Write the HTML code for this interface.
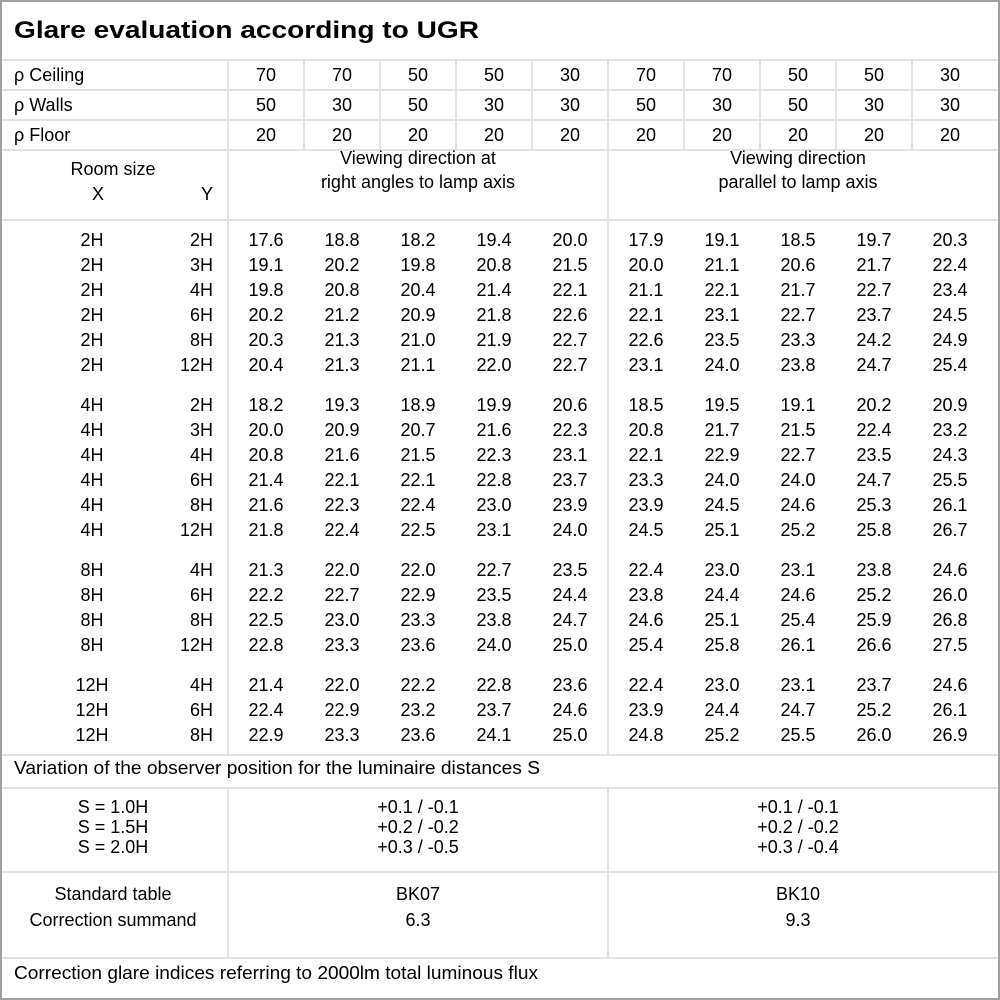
<!DOCTYPE html>
<html><head><meta charset="utf-8"><style>
html,body{margin:0;padding:0;background:#fff}
svg{display:block}
text{font-family:"Liberation Sans",sans-serif;font-size:18px;fill:#000}
.c{text-anchor:middle}.e{text-anchor:end}
</style></head><body>
<svg width="1000" height="1000" viewBox="0 0 1000 1000" xmlns="http://www.w3.org/2000/svg">
<rect x="0" y="0" width="1000" height="1000" fill="#fff"/>
<g stroke="#e2e2e2" stroke-width="2" fill="none">
<line x1="0" y1="60" x2="1000" y2="60"/>
<line x1="0" y1="90" x2="1000" y2="90"/>
<line x1="0" y1="120" x2="1000" y2="120"/>
<line x1="0" y1="150" x2="1000" y2="150"/>
<line x1="0" y1="220" x2="1000" y2="220"/>
<line x1="0" y1="755" x2="1000" y2="755"/>
<line x1="0" y1="788" x2="1000" y2="788"/>
<line x1="0" y1="872" x2="1000" y2="872"/>
<line x1="0" y1="958" x2="1000" y2="958"/>
<line x1="228" y1="60" x2="228" y2="755"/>
<line x1="608" y1="60" x2="608" y2="755"/>
<line x1="228" y1="788" x2="228" y2="958"/>
<line x1="608" y1="788" x2="608" y2="958"/>
<line x1="304" y1="60" x2="304" y2="150"/><line x1="380" y1="60" x2="380" y2="150"/>
<line x1="456" y1="60" x2="456" y2="150"/><line x1="532" y1="60" x2="532" y2="150"/>
<line x1="684" y1="60" x2="684" y2="150"/><line x1="760" y1="60" x2="760" y2="150"/>
<line x1="836" y1="60" x2="836" y2="150"/><line x1="912" y1="60" x2="912" y2="150"/>
</g>
<rect x="1" y="1" width="998" height="998" fill="none" stroke="#a0a0a0" stroke-width="2"/>
<text x="14" y="38" style="font-size:24px;font-weight:bold" textLength="465" lengthAdjust="spacingAndGlyphs">Glare evaluation according to UGR</text>
<text x="14" y="81">ρ Ceiling</text>
<text x="14" y="111">ρ Walls</text>
<text x="14" y="141">ρ Floor</text>
<g class="c">
<text class="c" x="266" y="81">70</text><text class="c" x="342" y="81">70</text><text class="c" x="418" y="81">50</text><text class="c" x="494" y="81">50</text><text class="c" x="570" y="81">30</text><text class="c" x="646" y="81">70</text><text class="c" x="722" y="81">70</text><text class="c" x="798" y="81">50</text><text class="c" x="874" y="81">50</text><text class="c" x="950" y="81">30</text>
<text class="c" x="266" y="111">50</text><text class="c" x="342" y="111">30</text><text class="c" x="418" y="111">50</text><text class="c" x="494" y="111">30</text><text class="c" x="570" y="111">30</text><text class="c" x="646" y="111">50</text><text class="c" x="722" y="111">30</text><text class="c" x="798" y="111">50</text><text class="c" x="874" y="111">30</text><text class="c" x="950" y="111">30</text>
<text class="c" x="266" y="141">20</text><text class="c" x="342" y="141">20</text><text class="c" x="418" y="141">20</text><text class="c" x="494" y="141">20</text><text class="c" x="570" y="141">20</text><text class="c" x="646" y="141">20</text><text class="c" x="722" y="141">20</text><text class="c" x="798" y="141">20</text><text class="c" x="874" y="141">20</text><text class="c" x="950" y="141">20</text>
</g>
<text class="c" x="113" y="175">Room size</text>
<text class="c" x="98" y="200">X</text>
<text class="c" x="207" y="200">Y</text>
<text class="c" x="418" y="164">Viewing direction at</text>
<text class="c" x="418" y="188">right angles to lamp axis</text>
<text class="c" x="798" y="164">Viewing direction</text>
<text class="c" x="798" y="188">parallel to lamp axis</text>

<!-- rows -->
<g>
<text class="c" x="92" y="246">2H</text><text class="e" x="213" y="246">2H</text>
<text class="c" x="266" y="246">17.6</text><text class="c" x="342" y="246">18.8</text><text class="c" x="418" y="246">18.2</text><text class="c" x="494" y="246">19.4</text><text class="c" x="570" y="246">20.0</text><text class="c" x="646" y="246">17.9</text><text class="c" x="722" y="246">19.1</text><text class="c" x="798" y="246">18.5</text><text class="c" x="874" y="246">19.7</text><text class="c" x="950" y="246">20.3</text>
<text class="c" x="92" y="271">2H</text><text class="e" x="213" y="271">3H</text>
<text class="c" x="266" y="271">19.1</text><text class="c" x="342" y="271">20.2</text><text class="c" x="418" y="271">19.8</text><text class="c" x="494" y="271">20.8</text><text class="c" x="570" y="271">21.5</text><text class="c" x="646" y="271">20.0</text><text class="c" x="722" y="271">21.1</text><text class="c" x="798" y="271">20.6</text><text class="c" x="874" y="271">21.7</text><text class="c" x="950" y="271">22.4</text>
<text class="c" x="92" y="296">2H</text><text class="e" x="213" y="296">4H</text>
<text class="c" x="266" y="296">19.8</text><text class="c" x="342" y="296">20.8</text><text class="c" x="418" y="296">20.4</text><text class="c" x="494" y="296">21.4</text><text class="c" x="570" y="296">22.1</text><text class="c" x="646" y="296">21.1</text><text class="c" x="722" y="296">22.1</text><text class="c" x="798" y="296">21.7</text><text class="c" x="874" y="296">22.7</text><text class="c" x="950" y="296">23.4</text>
<text class="c" x="92" y="321">2H</text><text class="e" x="213" y="321">6H</text>
<text class="c" x="266" y="321">20.2</text><text class="c" x="342" y="321">21.2</text><text class="c" x="418" y="321">20.9</text><text class="c" x="494" y="321">21.8</text><text class="c" x="570" y="321">22.6</text><text class="c" x="646" y="321">22.1</text><text class="c" x="722" y="321">23.1</text><text class="c" x="798" y="321">22.7</text><text class="c" x="874" y="321">23.7</text><text class="c" x="950" y="321">24.5</text>
<text class="c" x="92" y="346">2H</text><text class="e" x="213" y="346">8H</text>
<text class="c" x="266" y="346">20.3</text><text class="c" x="342" y="346">21.3</text><text class="c" x="418" y="346">21.0</text><text class="c" x="494" y="346">21.9</text><text class="c" x="570" y="346">22.7</text><text class="c" x="646" y="346">22.6</text><text class="c" x="722" y="346">23.5</text><text class="c" x="798" y="346">23.3</text><text class="c" x="874" y="346">24.2</text><text class="c" x="950" y="346">24.9</text>
<text class="c" x="92" y="371">2H</text><text class="e" x="213" y="371">12H</text>
<text class="c" x="266" y="371">20.4</text><text class="c" x="342" y="371">21.3</text><text class="c" x="418" y="371">21.1</text><text class="c" x="494" y="371">22.0</text><text class="c" x="570" y="371">22.7</text><text class="c" x="646" y="371">23.1</text><text class="c" x="722" y="371">24.0</text><text class="c" x="798" y="371">23.8</text><text class="c" x="874" y="371">24.7</text><text class="c" x="950" y="371">25.4</text>

<text class="c" x="92" y="411">4H</text><text class="e" x="213" y="411">2H</text>
<text class="c" x="266" y="411">18.2</text><text class="c" x="342" y="411">19.3</text><text class="c" x="418" y="411">18.9</text><text class="c" x="494" y="411">19.9</text><text class="c" x="570" y="411">20.6</text><text class="c" x="646" y="411">18.5</text><text class="c" x="722" y="411">19.5</text><text class="c" x="798" y="411">19.1</text><text class="c" x="874" y="411">20.2</text><text class="c" x="950" y="411">20.9</text>
<text class="c" x="92" y="436">4H</text><text class="e" x="213" y="436">3H</text>
<text class="c" x="266" y="436">20.0</text><text class="c" x="342" y="436">20.9</text><text class="c" x="418" y="436">20.7</text><text class="c" x="494" y="436">21.6</text><text class="c" x="570" y="436">22.3</text><text class="c" x="646" y="436">20.8</text><text class="c" x="722" y="436">21.7</text><text class="c" x="798" y="436">21.5</text><text class="c" x="874" y="436">22.4</text><text class="c" x="950" y="436">23.2</text>
<text class="c" x="92" y="461">4H</text><text class="e" x="213" y="461">4H</text>
<text class="c" x="266" y="461">20.8</text><text class="c" x="342" y="461">21.6</text><text class="c" x="418" y="461">21.5</text><text class="c" x="494" y="461">22.3</text><text class="c" x="570" y="461">23.1</text><text class="c" x="646" y="461">22.1</text><text class="c" x="722" y="461">22.9</text><text class="c" x="798" y="461">22.7</text><text class="c" x="874" y="461">23.5</text><text class="c" x="950" y="461">24.3</text>
<text class="c" x="92" y="486">4H</text><text class="e" x="213" y="486">6H</text>
<text class="c" x="266" y="486">21.4</text><text class="c" x="342" y="486">22.1</text><text class="c" x="418" y="486">22.1</text><text class="c" x="494" y="486">22.8</text><text class="c" x="570" y="486">23.7</text><text class="c" x="646" y="486">23.3</text><text class="c" x="722" y="486">24.0</text><text class="c" x="798" y="486">24.0</text><text class="c" x="874" y="486">24.7</text><text class="c" x="950" y="486">25.5</text>
<text class="c" x="92" y="511">4H</text><text class="e" x="213" y="511">8H</text>
<text class="c" x="266" y="511">21.6</text><text class="c" x="342" y="511">22.3</text><text class="c" x="418" y="511">22.4</text><text class="c" x="494" y="511">23.0</text><text class="c" x="570" y="511">23.9</text><text class="c" x="646" y="511">23.9</text><text class="c" x="722" y="511">24.5</text><text class="c" x="798" y="511">24.6</text><text class="c" x="874" y="511">25.3</text><text class="c" x="950" y="511">26.1</text>
<text class="c" x="92" y="536">4H</text><text class="e" x="213" y="536">12H</text>
<text class="c" x="266" y="536">21.8</text><text class="c" x="342" y="536">22.4</text><text class="c" x="418" y="536">22.5</text><text class="c" x="494" y="536">23.1</text><text class="c" x="570" y="536">24.0</text><text class="c" x="646" y="536">24.5</text><text class="c" x="722" y="536">25.1</text><text class="c" x="798" y="536">25.2</text><text class="c" x="874" y="536">25.8</text><text class="c" x="950" y="536">26.7</text>

<text class="c" x="92" y="576">8H</text><text class="e" x="213" y="576">4H</text>
<text class="c" x="266" y="576">21.3</text><text class="c" x="342" y="576">22.0</text><text class="c" x="418" y="576">22.0</text><text class="c" x="494" y="576">22.7</text><text class="c" x="570" y="576">23.5</text><text class="c" x="646" y="576">22.4</text><text class="c" x="722" y="576">23.0</text><text class="c" x="798" y="576">23.1</text><text class="c" x="874" y="576">23.8</text><text class="c" x="950" y="576">24.6</text>
<text class="c" x="92" y="601">8H</text><text class="e" x="213" y="601">6H</text>
<text class="c" x="266" y="601">22.2</text><text class="c" x="342" y="601">22.7</text><text class="c" x="418" y="601">22.9</text><text class="c" x="494" y="601">23.5</text><text class="c" x="570" y="601">24.4</text><text class="c" x="646" y="601">23.8</text><text class="c" x="722" y="601">24.4</text><text class="c" x="798" y="601">24.6</text><text class="c" x="874" y="601">25.2</text><text class="c" x="950" y="601">26.0</text>
<text class="c" x="92" y="626">8H</text><text class="e" x="213" y="626">8H</text>
<text class="c" x="266" y="626">22.5</text><text class="c" x="342" y="626">23.0</text><text class="c" x="418" y="626">23.3</text><text class="c" x="494" y="626">23.8</text><text class="c" x="570" y="626">24.7</text><text class="c" x="646" y="626">24.6</text><text class="c" x="722" y="626">25.1</text><text class="c" x="798" y="626">25.4</text><text class="c" x="874" y="626">25.9</text><text class="c" x="950" y="626">26.8</text>
<text class="c" x="92" y="651">8H</text><text class="e" x="213" y="651">12H</text>
<text class="c" x="266" y="651">22.8</text><text class="c" x="342" y="651">23.3</text><text class="c" x="418" y="651">23.6</text><text class="c" x="494" y="651">24.0</text><text class="c" x="570" y="651">25.0</text><text class="c" x="646" y="651">25.4</text><text class="c" x="722" y="651">25.8</text><text class="c" x="798" y="651">26.1</text><text class="c" x="874" y="651">26.6</text><text class="c" x="950" y="651">27.5</text>

<text class="c" x="92" y="691">12H</text><text class="e" x="213" y="691">4H</text>
<text class="c" x="266" y="691">21.4</text><text class="c" x="342" y="691">22.0</text><text class="c" x="418" y="691">22.2</text><text class="c" x="494" y="691">22.8</text><text class="c" x="570" y="691">23.6</text><text class="c" x="646" y="691">22.4</text><text class="c" x="722" y="691">23.0</text><text class="c" x="798" y="691">23.1</text><text class="c" x="874" y="691">23.7</text><text class="c" x="950" y="691">24.6</text>
<text class="c" x="92" y="716">12H</text><text class="e" x="213" y="716">6H</text>
<text class="c" x="266" y="716">22.4</text><text class="c" x="342" y="716">22.9</text><text class="c" x="418" y="716">23.2</text><text class="c" x="494" y="716">23.7</text><text class="c" x="570" y="716">24.6</text><text class="c" x="646" y="716">23.9</text><text class="c" x="722" y="716">24.4</text><text class="c" x="798" y="716">24.7</text><text class="c" x="874" y="716">25.2</text><text class="c" x="950" y="716">26.1</text>
<text class="c" x="92" y="741">12H</text><text class="e" x="213" y="741">8H</text>
<text class="c" x="266" y="741">22.9</text><text class="c" x="342" y="741">23.3</text><text class="c" x="418" y="741">23.6</text><text class="c" x="494" y="741">24.1</text><text class="c" x="570" y="741">25.0</text><text class="c" x="646" y="741">24.8</text><text class="c" x="722" y="741">25.2</text><text class="c" x="798" y="741">25.5</text><text class="c" x="874" y="741">26.0</text><text class="c" x="950" y="741">26.9</text>
</g>

<text x="14" y="774" textLength="526" lengthAdjust="spacingAndGlyphs">Variation of the observer position for the luminaire distances S</text>
<text class="c" x="113" y="813">S = 1.0H</text>
<text class="c" x="113" y="833">S = 1.5H</text>
<text class="c" x="113" y="853">S = 2.0H</text>
<text class="c" x="418" y="813">+0.1 / -0.1</text>
<text class="c" x="418" y="833">+0.2 / -0.2</text>
<text class="c" x="418" y="853">+0.3 / -0.5</text>
<text class="c" x="798" y="813">+0.1 / -0.1</text>
<text class="c" x="798" y="833">+0.2 / -0.2</text>
<text class="c" x="798" y="853">+0.3 / -0.4</text>
<text class="c" x="113" y="900">Standard table</text>
<text class="c" x="113" y="926">Correction summand</text>
<text class="c" x="418" y="900">BK07</text>
<text class="c" x="418" y="926">6.3</text>
<text class="c" x="798" y="900">BK10</text>
<text class="c" x="798" y="926">9.3</text>
<text x="14" y="979" textLength="524" lengthAdjust="spacingAndGlyphs">Correction glare indices referring to 2000lm total luminous flux</text>
</svg>
</body></html>
